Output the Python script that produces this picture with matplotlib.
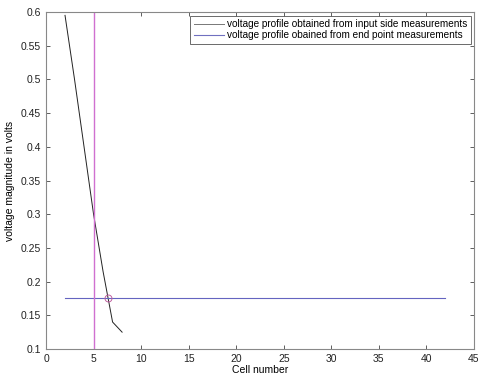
import matplotlib
matplotlib.use("Agg")
import matplotlib.pyplot as plt
import numpy as np

plt.rcParams['font.family'] = ['Liberation Sans', 'DejaVu Sans']

cells = [2, 3, 4, 5, 6, 7, 8]
voltage = [0.595, 0.50, 0.40, 0.30, 0.215, 0.14, 0.125]
end_x = [2, 42]
end_v = [0.175, 0.175]
vline_x = 5
cross_x = 6.5
cross_v = 0.175

label_input = "voltage profile obtained from input side measurements"
label_end = "voltage profile obained from end point measurements"

fig = plt.figure(figsize=(4.8, 3.79), dpi=100)
ax = fig.add_axes([46/480, 30/379, (474-46)/480, (349-12)/379])

ax.plot(cells, voltage, color='#222222', lw=0.7, label=label_input)
ax.plot(end_x, end_v, color='#6464c0', lw=0.8, label=label_end)
ax.axvline(vline_x, color='#d070d0', lw=1.0)
ax.plot([cross_x], [cross_v], marker='o', mfc='none', mec='#c060a0', ms=5, mew=0.7, ls='none')

ax.set_xlim(0, 45)
ax.set_ylim(0.1, 0.6)
ax.set_xticks(np.arange(0, 46, 5))
yt = np.arange(0.1, 0.601, 0.05)
ax.set_yticks(yt)
ax.set_yticklabels([f"{v:g}" for v in np.round(yt, 2)])
ax.tick_params(direction='in', top=True, right=True, labelsize=7.5, length=3, width=0.6, colors='#444444', labelcolor='#222222')
for s in ax.spines.values():
    s.set_color('#888888')
    s.set_linewidth(0.8)

ax.set_xlabel("Cell number", fontsize=7.5, labelpad=1)
ax.set_ylabel("voltage magnitude in volts", fontsize=7.5, labelpad=4)

leg = ax.legend(loc='upper right', fontsize=7.2, frameon=True, fancybox=False,
                edgecolor='#444444', borderpad=0.35, handlelength=3.0, handletextpad=0.3,
                labelspacing=0.15, borderaxespad=0.35)
leg.get_frame().set_linewidth(0.7)
leg.get_lines()[0].set_color('#777777')
leg.get_lines()[1].set_color('#7070c0')

fig.savefig("out.png", dpi=100)
